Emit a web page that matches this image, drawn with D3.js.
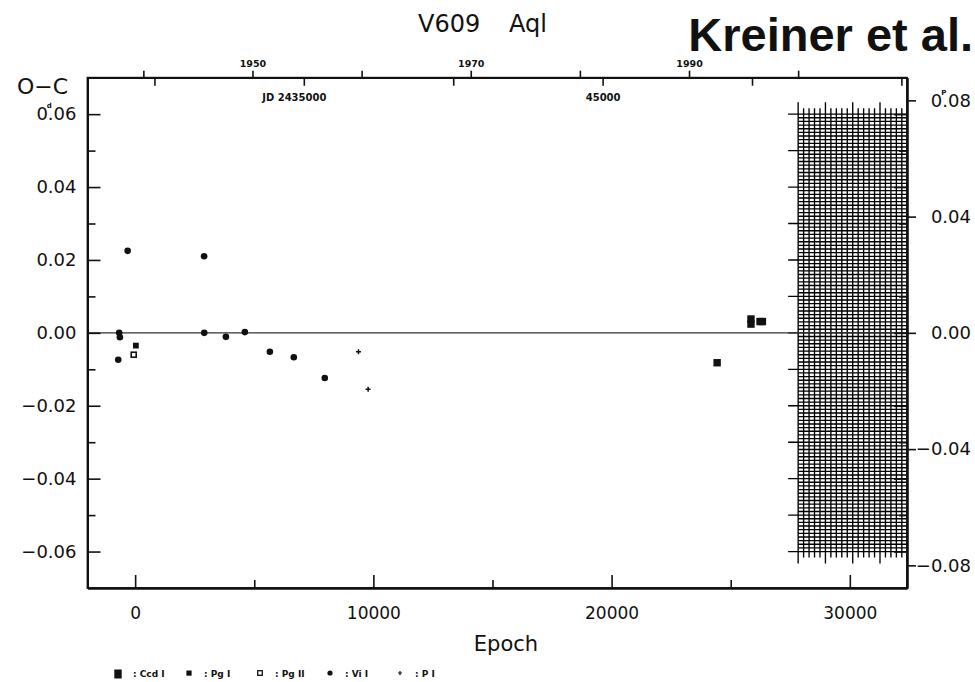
<!DOCTYPE html>
<html>
<head>
<meta charset="utf-8">
<script src="https://cdn.jsdelivr.net/npm/d3@7"></script>
<style>
  body { margin: 0; background: #fff; }
  text { font-family: "DejaVu Sans", sans-serif; fill: #111; }
</style>
</head>
<body>
<script>
// O-C data (epoch, O-C in days)
var ccdEpoch  = [24430, 25850, 25850, 26230, 26330];
var ccdOC     = [-0.0082, 0.0038, 0.0024, 0.0031, 0.0031];
var pgIEpoch  = [30];
var pgIOC     = [-0.0035];
var pgIIEpoch = [-60];
var pgIIOC    = [-0.0060];
var viEpoch   = [-710, -670, -640, -315, 2895, 2900, 3810, 4605, 5655, 6660, 7960];
var viOC      = [-0.0074, 0.0000, -0.0012, 0.0225, 0.0210, 0.0000, -0.0011, 0.0002, -0.0052, -0.0067, -0.0124];
var pEpoch    = [9375, 9780];
var pOC       = [-0.0052, -0.0155];

var legendLabels = ["Ccd I", "Pg I", "Pg II", "Vi I", "P I"];

// tick values
var leftMajor   = [-0.06, -0.04, -0.02, 0, 0.02, 0.04, 0.06];
var leftMinor   = [-0.05, -0.03, -0.01, 0.01, 0.03, 0.05];
var rightTicks  = [-0.08, -0.04, 0, 0.04, 0.08];
var epochMajor  = [0, 10000, 20000, 30000];
var epochMinor  = [5000, 15000, 25000];
var yearTicks   = [1940, 1950, 1960, 1970, 1980, 1990, 2000];
var yearLabels  = [1950, 1970, 1990];
var jdTicks     = [2430000, 2435000, 2440000, 2445000, 2450000, 2455000];
var jdLabels    = {2435000: "JD 2435000", 2445000: "45000"};

// ephemeris used for the top axes and the right (phase) axis
var T0 = 2429355, period = 0.7973;
var hatchStartYear = 2000;

window.onload = function(){

    var W = 975, H = 682;
    var left = 87.5, right = 907, top = 77.7, bottom = 588;

    var svg = d3.select("body")
        .append("svg")
        .attr("width", W)
        .attr("height", H);

    // scales
    var x = d3.scaleLinear().domain([-2000, 32400]).range([left, right]);
    var y = d3.scaleLinear().domain([-0.07, 0.07]).range([bottom, top]);
    var yP = d3.scaleLinear().domain([-0.07 / period, 0.07 / period]).range([bottom, top]);
    var xJD = d3.scaleLinear()
        .domain(x.domain().map(function(e){ return T0 + period * e; }))
        .range(x.range());
    function jdToYear(jd){ return 2000 + (jd - 2451544.5) / 365.25; }
    var xYear = d3.scaleLinear()
        .domain(xJD.domain().map(jdToYear))
        .range(x.range());

    function styleAxis(g, fs){
        g.attr("font-family", "DejaVu Sans, sans-serif").attr("font-size", fs);
        g.selectAll("line").attr("stroke", "#111").attr("stroke-width", 1.6);
        g.selectAll(".domain").attr("stroke", "#111").attr("stroke-width", 1.8);
        g.selectAll("text").attr("fill", "#111");
    }

    // put the unit as a small superscript over the decimal point: 0ᵈ.06
    function unitLabel(sel, unit){
        sel.each(function(){
            var t = d3.select(this), s = t.text();
            t.text(null);
            t.append("tspan").text(s.slice(0, 1));
            t.append("tspan").attr("font-size", 7).attr("font-weight", "bold")
                .attr("dy", -12).attr("dx", -1).text(unit);
            t.append("tspan").attr("dy", 12).attr("dx", -4).text(s.slice(1));
        });
    }

    // hatched block at the right
    var hatch = svg.append("g").attr("stroke", "#000").attr("stroke-width", 1.35);
    var hx0 = xYear(hatchStartYear);
    var hy0 = y(0.06), hy1 = y(-0.06);
    d3.range(0, 20).forEach(function(i){
        var xx = xYear(hatchStartYear + i * 0.5);
        var ext = (i % 5 === 0) ? 12 : 6;
        hatch.append("line").attr("x1", xx).attr("x2", xx)
            .attr("y1", hy0 - ext).attr("y2", hy1 + ext);
    });
    d3.range(-60, 61).forEach(function(i){
        var yy = y(i / 1000);
        hatch.append("line")
            .attr("x1", (i % 10 === 0) ? hx0 - 10 : hx0)
            .attr("x2", right)
            .attr("y1", yy).attr("y2", yy);
    });

    // zero line
    svg.append("line")
        .attr("x1", left).attr("x2", right)
        .attr("y1", y(0)).attr("y2", y(0))
        .attr("stroke", "#333").attr("stroke-width", 1.4);

    // left axis
    svg.append("g").attr("transform", "translate(" + left + ",0)")
        .call(d3.axisLeft(y).tickValues(leftMinor).tickSize(-8).tickSizeOuter(0).tickFormat(""))
        .call(styleAxis, 18);
    var lAxis = svg.append("g").attr("transform", "translate(" + left + ",0)")
        .call(d3.axisLeft(y).tickValues(leftMajor).tickSize(-13).tickSizeOuter(0)
            .tickPadding(11).tickFormat(d3.format(".2f")))
        .call(styleAxis, 18);
    lAxis.selectAll(".tick text").filter(function(d){ return d === 0.06; }).call(unitLabel, "d");

    // right axis: inner ticks in days, outer ticks in phase
    svg.append("g").attr("transform", "translate(" + right + ",0)")
        .call(d3.axisRight(y).tickValues(leftMinor).tickSize(-8).tickSizeOuter(0).tickFormat(""))
        .call(styleAxis, 18);
    svg.append("g").attr("transform", "translate(" + right + ",0)")
        .call(d3.axisRight(y).tickValues(leftMajor).tickSize(-13).tickSizeOuter(0).tickFormat(""))
        .call(styleAxis, 18);
    var rAxis = svg.append("g").attr("transform", "translate(" + right + ",0)")
        .call(d3.axisRight(yP).tickValues(rightTicks).tickSize(9).tickSizeOuter(0)
            .tickFormat(d3.format(".2f")))
        .call(styleAxis, 18);
    rAxis.selectAll("text").attr("text-anchor", "end").attr("x", 64);
    rAxis.selectAll(".tick text").filter(function(d){ return d === 0.08; }).call(unitLabel, "P");

    // bottom axis
    svg.append("g").attr("transform", "translate(0," + bottom + ")")
        .call(d3.axisBottom(x).tickValues(epochMinor).tickSize(-8).tickSizeOuter(0).tickFormat(""))
        .call(styleAxis, 17);
    svg.append("g").attr("transform", "translate(0," + bottom + ")")
        .call(d3.axisBottom(x).tickValues(epochMajor).tickSize(-13).tickSizeOuter(0)
            .tickPadding(19).tickFormat(d3.format("d")))
        .call(styleAxis, 17);

    // top axes: years (outside) and JD (inside)
    var yAx = svg.append("g").attr("transform", "translate(0," + top + ")")
        .call(d3.axisTop(xYear).tickValues(yearTicks).tickSize(7).tickSizeOuter(0).tickPadding(4)
            .tickFormat(function(d){ return yearLabels.indexOf(d) >= 0 ? d : ""; }))
        .call(styleAxis, 9.5);
    yAx.selectAll("text").attr("font-weight", "bold");
    var jAx = svg.append("g").attr("transform", "translate(0," + top + ")")
        .call(d3.axisBottom(xJD).tickValues(jdTicks).tickSize(8).tickSizeOuter(0).tickPadding(8)
            .tickFormat(function(d){ return jdLabels[d] || ""; }))
        .call(styleAxis, 10);
    jAx.selectAll("text").attr("font-weight", "bold")
        .attr("dx", function(d){ return d === 2435000 ? -10 : 0; });

    // frame
    svg.append("rect")
        .attr("x", left).attr("y", top)
        .attr("width", right - left).attr("height", bottom - top)
        .attr("fill", "none").attr("stroke", "#111").attr("stroke-width", 1.8);

    // labels
    svg.append("text").attr("x", 17).attr("y", 94).attr("font-size", 22).text("O\u2212C");
    svg.append("text").attr("x", 506).attr("y", 651).attr("text-anchor", "middle")
        .attr("font-size", 21).text("Epoch");
    svg.append("text").attr("x", 418).attr("y", 32).attr("font-size", 24).text("V609");
    svg.append("text").attr("x", 509).attr("y", 32).attr("font-size", 24).text("Aql");
    svg.append("text").attr("x", 973).attr("y", 51).attr("text-anchor", "end")
        .style("font-family", "'Liberation Sans', Arial, sans-serif")
        .attr("font-weight", "bold").attr("font-size", 47).text("Kreiner et al.");

    // data points
    var pts = svg.append("g").attr("fill", "#111").attr("stroke", "#111");

    pts.selectAll(".ccd").data(d3.zip(ccdEpoch, ccdOC)).enter().append("rect")
        .attr("x", function(d){ return x(d[0]) - 3.7; })
        .attr("y", function(d){ return y(d[1]) - 3.7; })
        .attr("width", 7.4).attr("height", 7.4).attr("stroke", "none");

    pts.selectAll(".pg1").data(d3.zip(pgIEpoch, pgIOC)).enter().append("rect")
        .attr("x", function(d){ return x(d[0]) - 2.9; })
        .attr("y", function(d){ return y(d[1]) - 2.9; })
        .attr("width", 5.8).attr("height", 5.8).attr("stroke", "none");

    pts.selectAll(".pg2").data(d3.zip(pgIIEpoch, pgIIOC)).enter().append("rect")
        .attr("x", function(d){ return x(d[0]) - 2.5; })
        .attr("y", function(d){ return y(d[1]) - 2.5; })
        .attr("width", 5).attr("height", 5)
        .attr("fill", "#fff").attr("stroke-width", 1.6);

    pts.selectAll(".vi").data(d3.zip(viEpoch, viOC)).enter().append("circle")
        .attr("cx", function(d){ return x(d[0]); })
        .attr("cy", function(d){ return y(d[1]); })
        .attr("r", 3.3).attr("stroke", "none");

    pts.selectAll(".pp").data(d3.zip(pEpoch, pOC)).enter().append("path")
        .attr("transform", function(d){ return "translate(" + x(d[0]) + "," + y(d[1]) + ")"; })
        .attr("d", "M-2.5,0H2.5M0,-2.5V2.5")
        .attr("fill", "none").attr("stroke-width", 1.5);

    // legend
    var legX = [118, 189, 260, 330, 400], legY = 674;
    var leg = svg.append("g").attr("fill", "#111").attr("stroke", "#111");
    leg.append("rect").attr("x", legX[0] - 3.7).attr("y", legY - 4.5).attr("width", 7.4).attr("height", 9).attr("stroke", "none");
    leg.append("rect").attr("x", legX[1] - 2.6).attr("y", legY - 3.5).attr("width", 5.2).attr("height", 5.2).attr("stroke", "none");
    leg.append("rect").attr("x", legX[2] - 2.3).attr("y", legY - 3.3).attr("width", 4.6).attr("height", 4.6)
        .attr("fill", "#fff").attr("stroke-width", 1.3);
    leg.append("circle").attr("cx", legX[3]).attr("cy", legY - 1).attr("r", 2.6).attr("stroke", "none");
    leg.append("path").attr("d", "M" + (legX[4] - 2) + "," + (legY - 1) + "h4M" + legX[4] + "," + (legY - 3) + "v4")
        .attr("fill", "none").attr("stroke-width", 1.2);
    legendLabels.forEach(function(t, i){
        leg.append("text").attr("x", legX[i] + 15).attr("y", legY + 3)
            .attr("stroke", "none").attr("font-size", 9).attr("font-weight", "bold")
            .text(":  " + t);
    });
};
</script>
</body>
</html>
